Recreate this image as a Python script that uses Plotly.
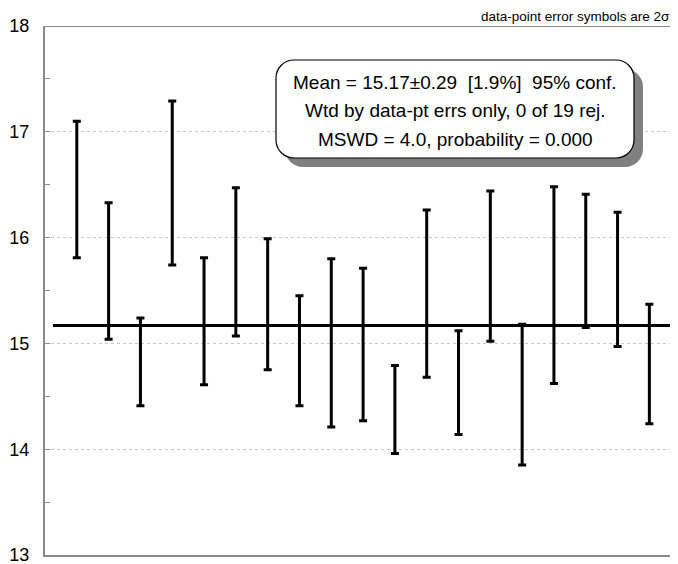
import plotly.graph_objects as go

# ---- data ----
upper = [17.10, 16.33, 15.24, 17.29, 15.81, 16.47, 15.99, 15.45, 15.80, 15.71,
         14.79, 16.26, 15.12, 16.44, 15.18, 16.48, 16.41, 16.24, 15.37]
lower = [15.81, 15.04, 14.41, 15.74, 14.61, 15.07, 14.75, 14.41, 14.21, 14.27,
         13.96, 14.68, 14.14, 15.02, 13.85, 14.62, 15.15, 14.97, 14.24]
mean_value = 15.17
y_ticks = [13, 14, 15, 16, 17, 18]
box_lines = ["Mean = 15.17±0.29\u00a0\u00a0[1.9%]\u00a0\u00a095% conf.",
             "Wtd by data-pt errs only, 0 of 19 rej.",
             "MSWD = 4.0, probability = 0.000"]
note_text = "data-point error symbols are 2σ"

# ---- layout geometry (page has an 8px body margin) ----
OFF = 8
W, H = 670, 556
ML, MR, MT, MB = 37, 0, 18, 9
PW, PH = W - ML - MR, H - MT - MB
FONT = "Arial, Liberation Sans, sans-serif"

def px(x):  # screen x -> paper
    return (x - OFF - ML) / PW

def py(y):  # screen y -> paper
    return (H - MB - (y - OFF)) / PH

def rounded_rect(x0, y0, x1, y1, r):
    k = 0.5523 * r
    X = px; Y = py
    return (f"M {X(x0 + r)},{Y(y0)} L {X(x1 - r)},{Y(y0)} "
            f"C {X(x1 - r + k)},{Y(y0)} {X(x1)},{Y(y0 + r - k)} {X(x1)},{Y(y0 + r)} "
            f"L {X(x1)},{Y(y1 - r)} "
            f"C {X(x1)},{Y(y1 - r + k)} {X(x1 - r + k)},{Y(y1)} {X(x1 - r)},{Y(y1)} "
            f"L {X(x0 + r)},{Y(y1)} "
            f"C {X(x0 + r - k)},{Y(y1)} {X(x0)},{Y(y1 - r + k)} {X(x0)},{Y(y1 - r)} "
            f"L {X(x0)},{Y(y0 + r)} "
            f"C {X(x0)},{Y(y0 + r - k)} {X(x0 + r - k)},{Y(y0)} {X(x0 + r)},{Y(y0)} Z")

n = len(upper)
xs = list(range(1, n + 1))
centers = [(u + l) / 2 for u, l in zip(upper, lower)]
err_plus = [u - c for u, c in zip(upper, centers)]
err_minus = [c - l for l, c in zip(lower, centers)]

fig = go.Figure()
fig.add_trace(go.Scatter(
    x=[0.25, n + 0.72], y=[mean_value, mean_value], mode="lines",
    line=dict(color="black", width=3), hoverinfo="skip", showlegend=False))
fig.add_trace(go.Scatter(
    x=xs, y=centers, mode="markers",
    marker=dict(size=1, opacity=0),
    error_y=dict(type="data", symmetric=False, array=err_plus, arrayminus=err_minus,
                 color="black", thickness=3, width=4),
    showlegend=False))

shapes = [
    dict(type="line", xref="paper", yref="y", x0=0, x1=1, y0=18, y1=18,
         line=dict(color="#8a8a8a", width=2), layer="above"),
    dict(type="path", xref="paper", yref="paper",
         path=rounded_rect(285, 69, 643, 167, 18),
         fillcolor="#808080", line=dict(width=0), layer="above"),
    dict(type="path", xref="paper", yref="paper",
         path=rounded_rect(276, 60, 634, 158, 18),
         fillcolor="white", line=dict(color="black", width=1.2), layer="above"),
]

annotations = []
for txt, yy in zip(box_lines, [82, 111, 139]):
    annotations.append(dict(x=px(455), y=py(yy), xref="paper", yref="paper",
                            text=txt, showarrow=False, xanchor="center", yanchor="middle",
                            font=dict(family=FONT, size=19, color="black")))
annotations.append(dict(x=px(671), y=py(16.5), xref="paper", yref="paper",
                        text=note_text, showarrow=False, xanchor="right", yanchor="middle",
                        borderpad=0,
                        font=dict(family=FONT, size=13.5, color="black")))

fig.update_layout(
    width=W, height=H, margin=dict(l=ML, r=MR, t=MT, b=MB, autoexpand=False),
    plot_bgcolor="white", paper_bgcolor="white",
    font=dict(family=FONT, color="black"),
    shapes=shapes, annotations=annotations, showlegend=False,
    xaxis=dict(range=[0, 19.9], showgrid=False, zeroline=False, showticklabels=False,
               ticks="", showline=True, linecolor="#8a8a8a", linewidth=2, fixedrange=True),
    yaxis=dict(range=[13, 18], tickvals=y_ticks, ticktext=[str(t) for t in y_ticks],
               showgrid=True, gridcolor="#c8c8c8", griddash="dot", gridwidth=1,
               zeroline=False, showline=True, linecolor="#8a8a8a", linewidth=2,
               ticks="inside", ticklen=5, tickcolor="#8a8a8a", tickwidth=1,
               tickfont=dict(family=FONT, size=18, color="black"), ticklabelstandoff=10,
               ticklabeloverflow="allow",
               minor=dict(dtick=0.5, ticks="inside", ticklen=5, tickcolor="#8a8a8a",
                          showgrid=False),
               fixedrange=True),
)

fig.write_html("out.html")
